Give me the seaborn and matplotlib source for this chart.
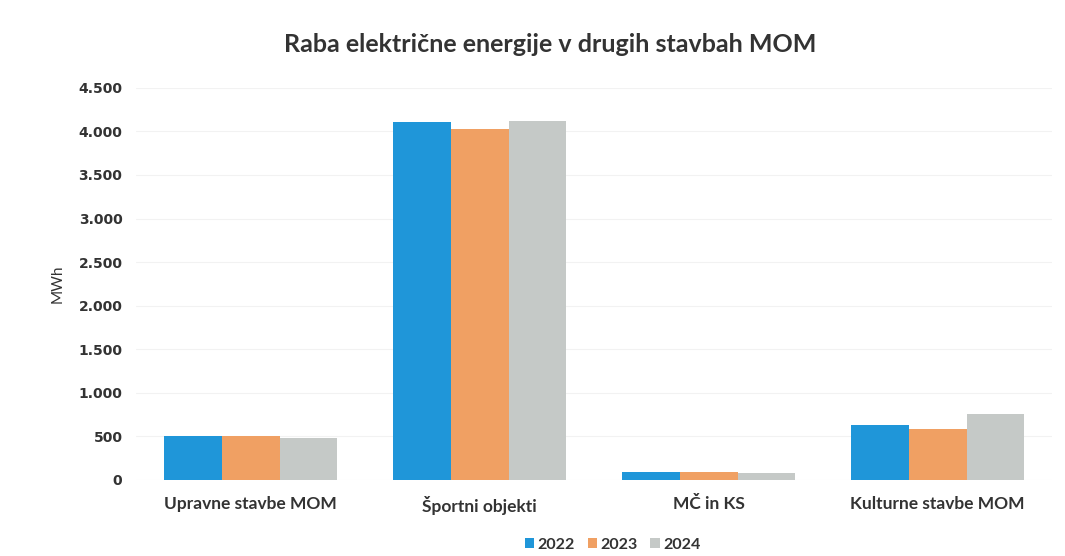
import numpy as np
import pandas as pd
import matplotlib
matplotlib.use('Agg')
import matplotlib.pyplot as plt
import seaborn as sns
from matplotlib.ticker import FuncFormatter

categories = ['Upravne stavbe MOM', 'Športni objekti', 'MČ in KS', 'Kulturne stavbe MOM']
years = ['2022', '2023', '2024']
values_2022 = [500, 4110, 85, 630]
values_2023 = [505, 4025, 90, 585]
values_2024 = [475, 4115, 75, 760]
colors = ['#1f96d9', '#f0a063', '#c5c9c7']

df = pd.DataFrame({
    'category': categories * 3,
    'year': [y for y in years for _ in categories],
    'mwh': values_2022 + values_2023 + values_2024,
})

sns.set_theme(style='white')
plt.rcParams['font.family'] = ['Lato', 'DejaVu Sans']

fig = plt.figure(figsize=(10.65, 5.56), dpi=100)
ax = fig.add_axes([0.128, 0.137, 0.86, 0.705])

sns.barplot(data=df, x='category', y='mwh', hue='year', palette=colors,
            width=0.755, saturation=1, ax=ax, edgecolor='none')

ax.set_ylim(0, 4500)
ax.set_yticks(np.arange(0, 4501, 500))
ax.yaxis.set_major_formatter(FuncFormatter(lambda v, p: f'{int(v):,}'.replace(',', '.')))
ax.grid(axis='y', color='#f2f2f2', linewidth=0.8)
ax.set_axisbelow(True)
for s in ax.spines.values():
    s.set_visible(False)

ax.tick_params(axis='both', length=0, labelcolor='#333333')
for lbl in ax.get_yticklabels():
    lbl.set_fontfamily('DejaVu Sans')
    lbl.set_fontweight('bold')
    lbl.set_fontsize(10)
for lbl in ax.get_xticklabels():
    lbl.set_fontweight('bold')
    lbl.set_fontsize(12.5)
ax.tick_params(axis='y', pad=10)
ax.tick_params(axis='x', pad=12)

ax.set_xlabel('')
ax.set_ylabel('MWh', fontsize=11, color='#333333', labelpad=10)
fig.suptitle('Raba električne energije v drugih stavbah MOM', x=0.517, y=0.94,
             fontsize=18, fontweight='bold', color='#333333')

leg = ax.legend(loc='center', bbox_to_anchor=(0.52, -0.165), ncol=3, frameon=False,
                handlelength=0.6, handleheight=0.6, handletextpad=0.2, columnspacing=0.8,
                prop={'weight': 'bold', 'size': 11.5})
for t in leg.get_texts():
    t.set_color('#333333')

fig.savefig('out.png', dpi=100)
